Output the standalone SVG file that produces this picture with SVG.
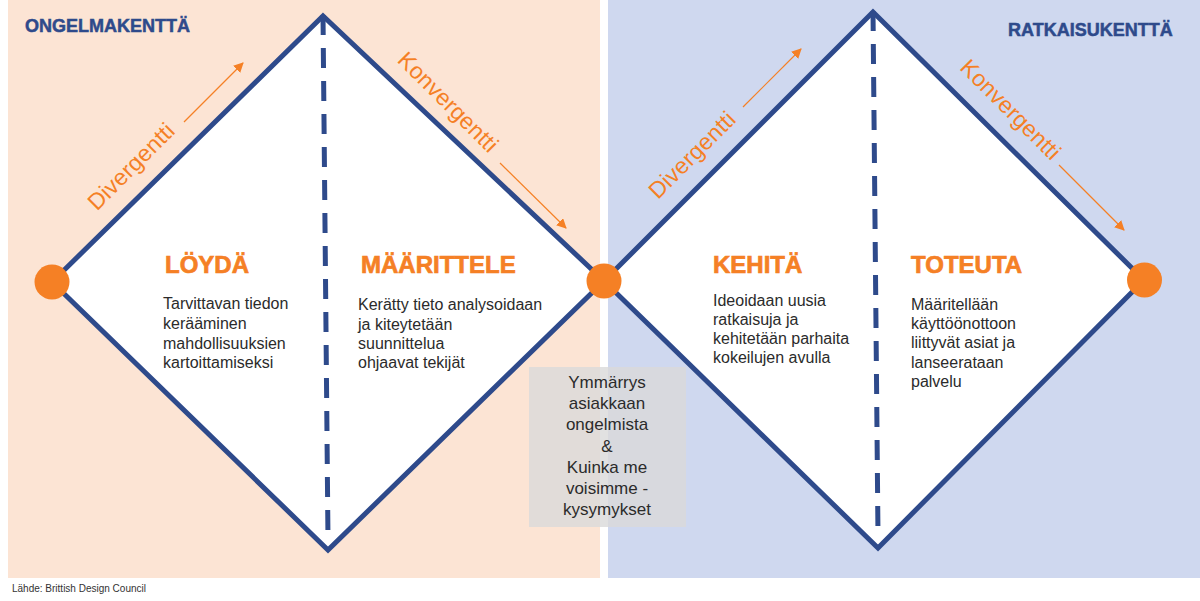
<svg xmlns="http://www.w3.org/2000/svg" width="1200" height="601" viewBox="0 0 1200 601">
<defs>
<style>
.field{font-family:"Liberation Sans",Arial,sans-serif;font-weight:bold;font-size:18px;fill:#2E4A8B;stroke:#2E4A8B;stroke-width:0.5}
.title{font-family:"Liberation Sans",Arial,sans-serif;font-weight:bold;font-size:24px;fill:#F58025;stroke:#F58025;stroke-width:0.7}
.body{font-family:"Liberation Sans",Arial,sans-serif;font-size:16px;fill:#2B2B2B}
.note{font-family:"Liberation Sans",Arial,sans-serif;font-size:17px;fill:#2B2B2B;text-anchor:middle}
.dir{font-family:"Liberation Sans",Arial,sans-serif;font-size:23px;fill:#F58025;text-anchor:middle}
.diamond{fill:#FFFFFF;stroke:#2E4A8B;stroke-width:5;stroke-linejoin:miter}
.dash{stroke:#2E4A8B;stroke-width:5;stroke-dasharray:20 13;fill:none}
.dot{fill:#F58025}
.arrow{stroke:#F58025;stroke-width:1.2;fill:none}
.foot{font-family:"Liberation Sans",Arial,sans-serif;font-size:10px;fill:#333333}
</style>
<marker id="ah" viewBox="0 0 10 10" refX="9" refY="5" markerWidth="10" markerHeight="10" markerUnits="userSpaceOnUse" orient="auto">
<path d="M0,0 L10,5 L0,10 z" fill="#F58025"/>
</marker>
</defs>

<g id="panels">
<rect x="8" y="0" width="592" height="578" fill="#FCE4D4"/>
<rect x="608" y="0" width="592" height="578" fill="#CFD8EF"/>
</g>

<g id="headings">
<text class="field" x="25" y="32">ONGELMAKENTTÄ</text>
<text class="field" x="1008" y="36">RATKAISUKENTTÄ</text>
</g>

<g id="diamond-left">
<polygon class="diamond" points="52,282 323,16 604,281 328,550"/>
<line class="dash" x1="323" y1="15" x2="328" y2="540"/>
</g>

<g id="diamond-right">
<polygon class="diamond" points="604,281 873,12 1144,280 878,548"/>
<line class="dash" x1="873" y1="11" x2="878" y2="536"/>
</g>

<g id="connectors">
<line class="arrow" x1="184" y1="122" x2="243" y2="63" marker-end="url(#ah)"/>
<line class="arrow" x1="500" y1="163" x2="566" y2="228" marker-end="url(#ah)"/>
<line class="arrow" x1="743" y1="107" x2="801" y2="49" marker-end="url(#ah)"/>
<line class="arrow" x1="1059" y1="165" x2="1124" y2="230" marker-end="url(#ah)"/>
</g>

<g id="labels-direction">
<text class="dir" transform="translate(136.5,172) rotate(-45)" textLength="112" lengthAdjust="spacing">Divergentti</text>
<text class="dir" transform="translate(442.5,107.5) rotate(45)" textLength="131" lengthAdjust="spacing">Konvergentti</text>
<text class="dir" transform="translate(697.5,160.5) rotate(-45)" textLength="112" lengthAdjust="spacing">Divergentti</text>
<text class="dir" transform="translate(1005,115) rotate(45)" textLength="131" lengthAdjust="spacing">Konvergentti</text>
</g>

<g id="node-loyda">
<text class="title" x="165" y="273">LÖYDÄ</text>
<text class="body" x="163" y="309">Tarvittavan tiedon</text>
<text class="body" x="163" y="329">kerääminen</text>
<text class="body" x="163" y="349">mahdollisuuksien</text>
<text class="body" x="163" y="368">kartoittamiseksi</text>
</g>

<g id="node-maarittele">
<text class="title" x="361" y="273">MÄÄRITTELE</text>
<text class="body" x="358" y="310">Kerätty tieto analysoidaan</text>
<text class="body" x="358" y="330">ja kiteytetään</text>
<text class="body" x="358" y="349">suunnittelua</text>
<text class="body" x="358" y="368">ohjaavat tekijät</text>
</g>

<g id="node-kehita">
<text class="title" x="713" y="273">KEHITÄ</text>
<text class="body" x="713" y="306">Ideoidaan uusia</text>
<text class="body" x="713" y="325">ratkaisuja ja</text>
<text class="body" x="713" y="344">kehitetään parhaita</text>
<text class="body" x="713" y="363">kokeilujen avulla</text>
</g>

<g id="node-toteuta">
<text class="title" x="911" y="273">TOTEUTA</text>
<text class="body" x="911" y="310">Määritellään</text>
<text class="body" x="911" y="329">käyttöönottoon</text>
<text class="body" x="911" y="348">liittyvät asiat ja</text>
<text class="body" x="911" y="368">lanseerataan</text>
<text class="body" x="911" y="387">palvelu</text>
</g>

<g id="node-center">
<rect x="529" y="367" width="157" height="160" fill="#D9D9D9" fill-opacity="0.8"/>
<text class="note" x="607" y="388">Ymmärrys</text>
<text class="note" x="607" y="409">asiakkaan</text>
<text class="note" x="607" y="430">ongelmista</text>
<text class="note" x="607" y="452">&amp;</text>
<text class="note" x="607" y="473">Kuinka me</text>
<text class="note" x="607" y="494">voisimme -</text>
<text class="note" x="607" y="515">kysymykset</text>
</g>

<g id="dots">
<circle class="dot" cx="52" cy="282" r="17.5"/>
<circle class="dot" cx="604" cy="281" r="17.5"/>
<circle class="dot" cx="1144.5" cy="280" r="17.5"/>
</g>

<text class="foot" x="12" y="592">Lähde: Brittish Design Council</text>
</svg>
